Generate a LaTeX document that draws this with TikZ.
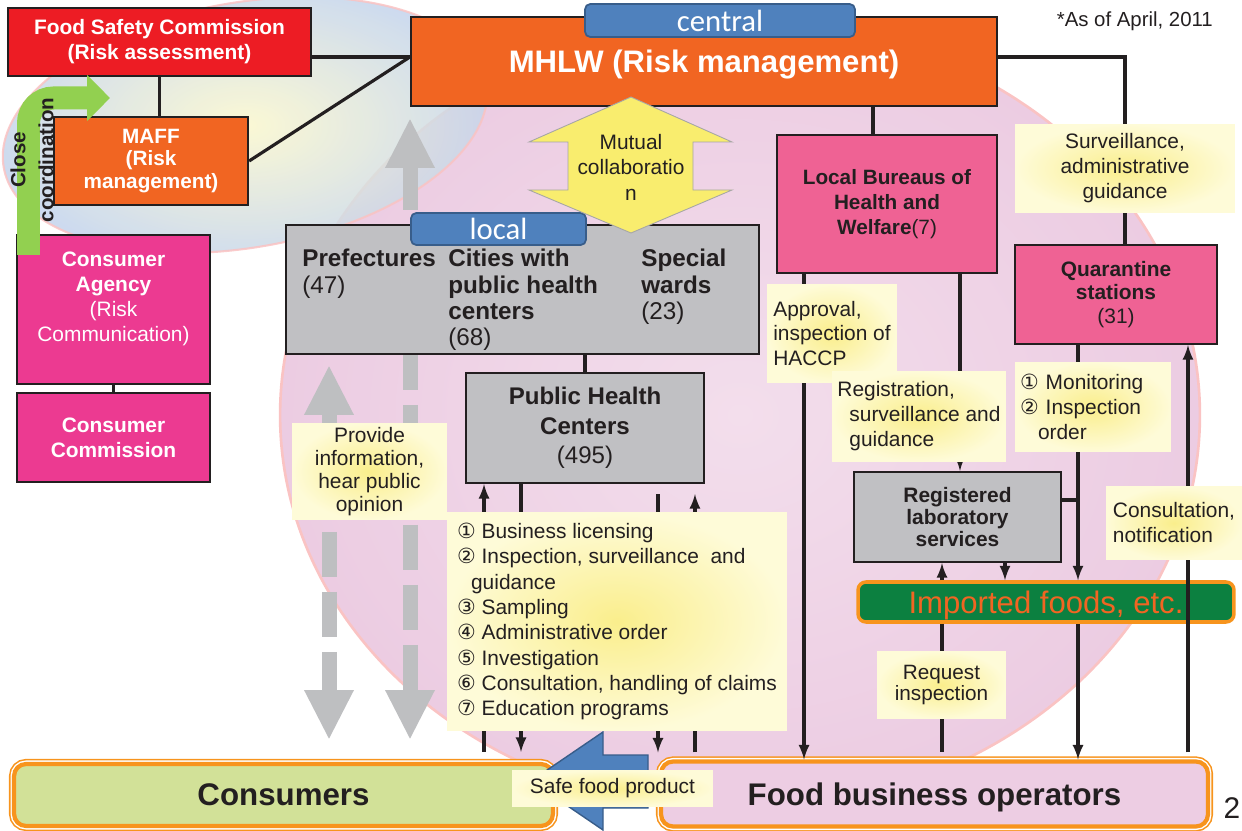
\documentclass[tikz,border=0pt]{standalone}
\usepackage{fontspec}
\setmainfont{Liberation Sans}
\newfontfamily\tabfont{Carlito}
\newfontfamily\circfont{DejaVu Sans}
\usetikzlibrary{arrows.meta}
\definecolor{ink}{RGB}{35,31,32}
\definecolor{fscred}{RGB}{237,28,36}
\definecolor{orng}{RGB}{241,101,34}
\definecolor{tabblue}{RGB}{79,129,189}
\definecolor{tabedge}{RGB}{56,93,138}
\definecolor{magen}{RGB}{236,58,145}
\definecolor{rose}{RGB}{239,98,148}
\definecolor{boxgray}{RGB}{192,192,195}
\definecolor{arrgray}{RGB}{190,191,193}
\definecolor{ylwin}{RGB}{250,238,140}
\definecolor{ylwout}{RGB}{254,251,216}
\definecolor{mutual}{RGB}{249,237,110}
\definecolor{lime}{RGB}{146,208,80}
\definecolor{cnsfill}{RGB}{210,225,152}
\definecolor{fbofill}{RGB}{237,205,227}
\definecolor{frame}{RGB}{247,148,29}
\definecolor{impgreen}{RGB}{12,128,64}
\definecolor{pinkbg}{RGB}{236,204,226}
\definecolor{pinkbgin}{RGB}{243,222,236}
\definecolor{bluebg}{RGB}{196,212,236}
\definecolor{bluebgin}{RGB}{250,247,205}
\definecolor{halo}{RGB}{250,195,195}

\begin{document}
\begin{tikzpicture}[x=0.02cm,y=-0.02cm,
	box/.style={draw=ink,line width=1.3pt,align=center,inner sep=1pt},
	wbold/.style={text=white,font=\bfseries\fontsize{11.9}{14.2}\selectfont},
	tab/.style={draw=tabedge,line width=1pt,fill=tabblue,rounded corners=3pt,text=white,font=\tabfont\fontsize{17.5}{20}\selectfont,inner sep=0pt},
	cell/.style={anchor=north west,align=left,inner sep=0pt,text=ink,font=\fontsize{13.8}{15}\selectfont},
	lbl/.style={inner color=ylwin,outer color=ylwout,align=center,inner sep=1pt,text=ink,font=\fontsize{11.9}{14.2}\selectfont},
	framed/.style={rounded corners=0.24cm,line width=2.4pt,draw=frame,preaction={draw=frame,line width=5.8pt},preaction={draw=white,line width=4pt}},
	line/.style={draw=ink,line width=1.8pt},
	arr/.style={line,-latex},
	grayarr/.style={draw=arrgray,line width=0.3cm,dash pattern=on 0.9cm off 0.3cm,{Triangle[width=0.92cm,length=1cm]}-{Triangle[width=0.92cm,length=1cm]}}]
	\useasboundingbox (0,0) rectangle (1242,831);
	\shadedraw[inner color=pinkbgin,outer color=pinkbg,draw=halo,line width=1.5pt] (740,415) ellipse [x radius=9.2cm,y radius=7.9cm];
	\shadedraw[inner color=bluebgin,outer color=bluebg,draw=halo,line width=1.2pt,opacity=0.85,rotate around={10:(245,125)}] (245,125) ellipse [x radius=4.9cm,y radius=2.45cm];

	\coordinate (gla) at (329,365);
	\coordinate (glb) at (329,740);
	\coordinate (gra) at (410,118);
	\coordinate (grb) at (410,740);
	\draw[grayarr] (gla) -- (glb);
	\draw[grayarr] (gra) -- (grb);

	\node[box,fill=fscred,wbold,minimum width=6.06cm,minimum height=1.36cm] (fsc) at (159.5,42) {Food Safety Commission\\(Risk assessment)};
	\node[box,fill=orng,wbold,font=\bfseries\fontsize{11.8}{13}\selectfont,minimum width=3.88cm,minimum height=1.76cm] (maff) at (151,161) {MAFF\\(Risk\\management)};
	\node[box,fill=orng,text=white,font=\bfseries\fontsize{17.7}{20}\selectfont,text depth=0pt,minimum width=11.72cm,minimum height=1.78cm] (mhlw) at (704,61.5) {MHLW (Risk management)};
	\node[tab,minimum width=5.4cm,minimum height=0.66cm] (ctab) at (720,20.5) {central};
	\node[box,fill=magen,text=white,font=\fontsize{11.9}{14.2}\selectfont,minimum width=3.86cm,minimum height=2.98cm] (agency) at (113.5,309.5) {\textbf{Consumer}\\\textbf{Agency}\\(Risk\\Communication)\\\mbox{}};
	\node[box,fill=magen,wbold,minimum width=3.86cm,minimum height=1.78cm] (comm) at (113.5,437.5) {Consumer\\Commission};
	\node[box,fill=rose,text=ink,font=\fontsize{11.8}{14.2}\selectfont,minimum width=4.4cm,minimum height=2.76cm] (lbh) at (887,204) {\textbf{Local Bureaus of}\\\textbf{Health and}\\\textbf{Welfare}(7)};
	\node[box,fill=rose,text=ink,font=\fontsize{11.9}{13.4}\selectfont,minimum width=4.04cm,minimum height=1.98cm] (quar) at (1116,294.5) {\textbf{Quarantine}\\\textbf{stations}\\(31)};
	\node[box,fill=boxgray,text=ink,font=\bfseries\fontsize{11.9}{12.3}\selectfont,minimum width=4.14cm,minimum height=1.8cm] (lab) at (957.5,517) {Registered\\laboratory\\services};
	\node[box,fill=boxgray,minimum width=9.46cm,minimum height=2.58cm] (pref) at (522.5,289.5) {};
	\node[cell] (prefT) at (302,249) {\textbf{Prefectures}\\(47)};
	\node[cell] (cityT) at (448,249) {\textbf{Cities with}\\\textbf{public health}\\\textbf{centers}\\(68)};
	\node[cell] (wardT) at (641,249) {\textbf{Special}\\\textbf{wards}\\(23)};
	\node[tab,minimum width=3.5cm,minimum height=0.64cm] (ltab) at (498.5,229) {local};
	\node[box,fill=boxgray,text=ink,font=\fontsize{13.7}{16.8}\selectfont,minimum width=4.76cm,minimum height=2.2cm] (phc) at (585,428) {\textbf{Public Health}\\\textbf{Centers}\\(495)};
	\node[draw=frame,line width=2pt,rounded corners=0.16cm,fill=impgreen,text=orng,font=\fontsize{17.7}{20}\selectfont,text depth=0pt,inner sep=0pt,minimum width=7.52cm,minimum height=0.8cm] (imp) at (1046,602) {Imported foods, etc.};
	\node[framed,fill=cnsfill,text=ink,font=\bfseries\fontsize{17.8}{20}\selectfont,text depth=0pt,minimum width=10.78cm,minimum height=1.24cm] (cnsm) at (283.5,795) {Consumers};
	\node[framed,fill=fbofill,text=ink,font=\bfseries\fontsize{17.8}{20}\selectfont,text depth=0pt,minimum width=10.94cm,minimum height=1.3cm] (fbo) at (934.5,794) {Food business operators};

	\filldraw[fill=mutual,draw=gray!70,line width=0.5pt] (631,97) -- (732,142) -- (693,142) -- (693,190) -- (732,190) -- (631,233) -- (529,190) -- (568,190) -- (568,142) -- (529,142) -- cycle;
	\node[text=ink,align=center,font=\fontsize{11.9}{14.5}\selectfont] (mut) at (631,167) {Mutual\\collaboratio\\n};
	\filldraw[fill=tabblue,draw=tabedge,line width=0.8pt] (531,781) -- (603,732) -- (603,755) -- (648,755) -- (648,808) -- (603,808) -- (603,830) -- cycle;

	\coordinate (cg1) at (28.5,255);
	\coordinate (cg2) at (110,98);
	\draw[lime,line width=0.46cm,rounded corners=0.5cm,-{Triangle[width=0.9cm,length=0.46cm]}] (cg1) |- (cg2);
	\node[rotate=90,align=center,text=ink,font=\bfseries\fontsize{11.7}{16}\selectfont] (close) at (32,160) {Close\\coordination};

	\coordinate (mj) at ([yshift=0.09cm]mhlw.west);
	\draw[line] (fsc.south) -- (fsc.south |- maff.north);
	\draw[line] (fsc.east |- mj) -- (mj);
	\draw[line] (maff.east) -- (mj);
	\draw[line] (agency.south) -- (comm.north);
	\coordinate (qtop) at ([xshift=0.18cm]quar.north);
	\draw[line] (mhlw.east |- mj) -| (qtop);
	\coordinate (lbtop) at ([xshift=-0.28cm]lbh.north);
	\draw[line] (mhlw.south -| lbtop) -- (lbtop);
	\coordinate (lbl1) at ([xshift=-1.66cm]lbh.south);
	\coordinate (lbl2) at ([xshift=1.46cm]lbh.south);
	\draw[arr] (lbl1) -- (lbl1 |- fbo.north);
	\draw[arr] (lbl2) -- (lbl2 |- lab.north);
	\coordinate (qdown) at ([xshift=-0.76cm]quar.south);
	\coordinate (qup) at ([xshift=1.44cm]quar.south);
	\draw[arr] (qdown) -- (qdown |- imp.north);
	\draw[arr] (qdown |- imp.south) -- (qdown |- fbo.north);
	\draw[arr,shorten <=0.14cm] (qup |- fbo.north) -- (qup);
	\draw[line] ([yshift=0.34cm]lab.east) -- ++(0.34cm,0);
	\coordinate (li1) at ([xshift=-0.31cm]lab.south);
	\coordinate (li2) at ([xshift=0.95cm]lab.south);
	\draw[arr] (li1 |- imp.north) -- (li1);
	\draw[arr] (li2) -- (li2 |- imp.north);
	\draw[line,shorten >=0.14cm] (li1 |- imp.south) -- (li1 |- fbo.north);
	\draw[line] (phc.north) -- (phc.north |- pref.south);
	\coordinate (ph1) at ([xshift=-2.02cm]phc.south);
	\coordinate (ph2) at ([xshift=-1.28cm]phc.south);
	\coordinate (ph3) at ([xshift=1.46cm]phc.south);
	\coordinate (ph4) at ([xshift=2.2cm]phc.south);
	\draw[arr,shorten <=0.2cm] (ph1 |- cnsm.north) -- (ph1);
	\draw[arr,shorten >=0.2cm] (ph2) -- (ph2 |- cnsm.north);
	\draw[arr,shorten <=0.2cm,shorten >=0.14cm] (ph3) -- (ph3 |- fbo.north);
	\draw[arr,shorten <=0.14cm,shorten >=0.2cm] (ph4 |- fbo.north) -- (ph4);

	\node[lbl,minimum width=4.4cm,minimum height=1.78cm] (surv) at (1125,168.5) {Surveillance,\\administrative\\guidance};
	\node[lbl,align=left,minimum width=2.6cm,minimum height=1.98cm] (appr) at (832,333.5) {Approval,\\inspection of\\HACCP};
	\node[lbl,align=left,minimum width=3.48cm,minimum height=1.82cm] (regl) at (919,416.5) {Registration,\\\hspace*{0.24cm}surveillance and\\\hspace*{0.24cm}guidance};
	\node[lbl,align=left,text width=2.92cm,inner xsep=0.1cm,minimum height=1.8cm] (moni) at (1093,407) {{\circfont ①} Monitoring\\{\circfont ②} Inspection\\\hspace*{0.36cm}order};
	\node[lbl,align=left,minimum width=2.72cm,minimum height=1.48cm] (cons) at (1174,523) {Consultation,\\notification};
	\node[lbl,font=\fontsize{11.8}{12.3}\selectfont,minimum width=2.58cm,minimum height=1.36cm] (req) at (941.5,685) {Request\\inspection};
	\node[lbl,font=\fontsize{11.9}{13.1}\selectfont,minimum width=3.1cm,minimum height=1.94cm] (prov) at (369.5,471.5) {Provide\\information,\\hear public\\opinion};
	\node[lbl,align=left,font=\fontsize{11.9}{14.4}\selectfont,minimum width=6.8cm,minimum height=4.38cm] (bus) at (617,621.5) {{\circfont ①} Business licensing\\{\circfont ②} Inspection, surveillance~ and\\\hspace*{0.28cm}guidance\\{\circfont ③} Sampling\\{\circfont ④} Administrative order\\{\circfont ⑤} Investigation\\{\circfont ⑥} Consultation, handling of claims\\{\circfont ⑦} Education programs};
	\node[lbl,minimum width=4.02cm,minimum height=0.74cm] (safe) at (612.5,788.5) {Safe food product};

	\node[anchor=east,text=ink,font=\fontsize{11.6}{14}\selectfont] (asof) at (1219,21) {*As of April, 2011};
	\node[text=ink,font=\fontsize{17}{20}\selectfont] (pg) at (1232,808) {2};
\end{tikzpicture}
\end{document}
